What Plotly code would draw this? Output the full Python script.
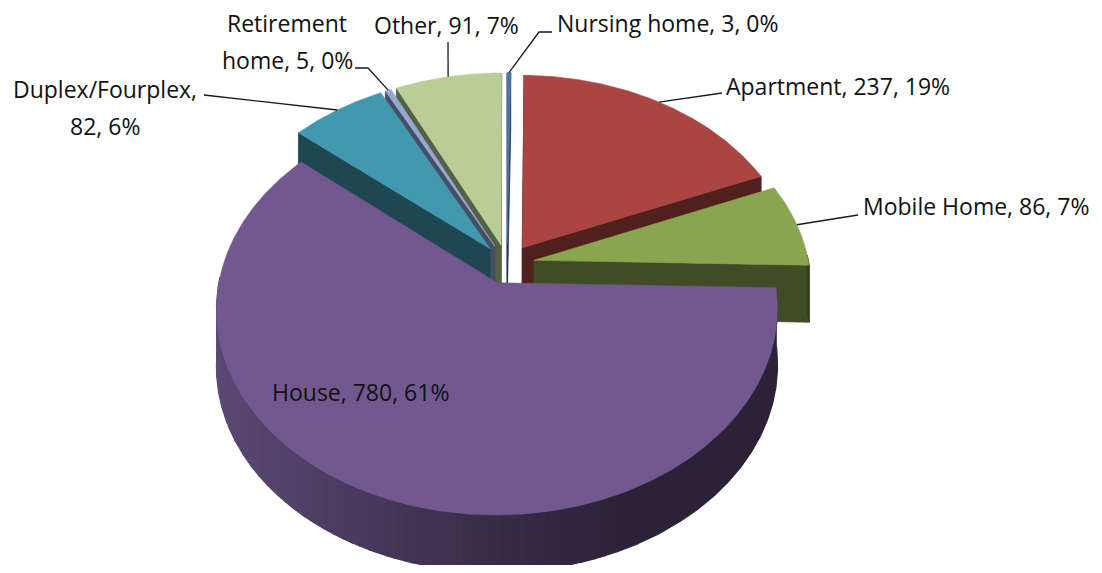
import numpy as np
import plotly.graph_objects as go

# ---------------- data ----------------
categories = ["Nursing home", "Apartment", "Mobile Home", "House",
              "Duplex/Fourplex", "Retirement home", "Other"]
counts = [3, 237, 86, 780, 82, 5, 91]
percent_labels = ["0%", "19%", "7%", "61%", "6%", "0%", "7%"]
slice_colors = ["#4A76AE", "#AA4541", "#89A54E", "#71588F",
                "#4198AF", "#93A9D3", "#B9CD96"]

# ---------------- geometry / style ----------------
W, H = 1102, 573
PAGE_MARGIN = 8            # browser default body margin around the plot div
CX, CY = 507, 264          # projected centre of the (unexploded) pie
SX, SY, PERSP = 275, 198, 0.1256
EXPLODE = 0.1
DEPTH = 57
FONT = "Open Sans"
FSIZE = 23
TXT = "#111111"


def proj(u, v):
    u = np.asarray(u, dtype=float)
    v = np.asarray(v, dtype=float)
    k = 1 + PERSP * v
    return CX + SX * u / k, CY - SY * v / k


def hex2rgb(h):
    h = h.lstrip("#")
    return [int(h[i:i + 2], 16) for i in (0, 2, 4)]


def shade(h, f):
    r, g, b = hex2rgb(h)
    return "rgb(%d,%d,%d)" % (int(r * f), int(g * f), int(b * f))


def wall_factor(s):
    return float(np.interp(s, [-1, -0.5, 0, 0.4, 1], [0.83, 0.68, 0.5, 0.39, 0.39]))


def poly(x, y, color, lw=0.8):
    return go.Scatter(x=x, y=y, mode="lines", fill="toself", fillcolor=color,
                      line=dict(color=color, width=lw), hoverinfo="skip",
                      showlegend=False)


total = sum(counts)
bounds = np.cumsum([0] + counts) / total * 360.0
mids = [(bounds[i] + bounds[i + 1]) / 2 for i in range(len(counts))]
order = sorted(range(len(counts)), key=lambda i: -np.cos(np.radians(mids[i])))

fig = go.Figure()
anchors = {}
for i in order:
    a0, a1, m = bounds[i], bounds[i + 1], mids[i]
    base = slice_colors[i]
    ou, ov = EXPLODE * np.sin(np.radians(m)), EXPLODE * np.cos(np.radians(m))
    n = max(4, int((a1 - a0) * 2) + 2)
    t = np.radians(np.linspace(a0, a1, n))
    px, py = proj(ou + np.sin(t), ov + np.cos(t))
    cx0, cy0 = proj(ou, ov)
    cx0, cy0 = float(cx0), float(cy0)

    # radial cut faces
    cx_, cy_ = [], []
    for ang, ex, ey in [(a0 - 90, px[0], py[0]), (a1 + 90, px[-1], py[-1])]:
        if np.cos(np.radians(ang)) < 0.02:
            cx_ += [cx0, ex, ex, cx0, cx0, None]
            cy_ += [cy0, ey, ey + DEPTH, cy0 + DEPTH, cy0, None]
    if cx_:
        fig.add_trace(poly(cx_, cy_, shade(base, 0.47)))

    # outer curved wall, in shaded strips
    segs = []
    for k in range(n - 1):
        tm = (t[k] + t[k + 1]) / 2
        if np.cos(tm) < 0.03:
            segs.append((k, round(wall_factor(np.sin(tm)), 2)))
    j = 0
    while j < len(segs):
        k0, lev = segs[j]
        k1 = k0
        while j + 1 < len(segs) and segs[j + 1][1] == lev and segs[j + 1][0] == k1 + 1:
            j += 1
            k1 = segs[j][0]
        idx = list(range(k0, k1 + 2))
        xs = [px[q] for q in idx] + [px[q] for q in reversed(idx)]
        ys = [py[q] for q in idx] + [py[q] + DEPTH for q in reversed(idx)]
        fig.add_trace(poly(xs + [xs[0]], ys + [ys[0]], shade(base, lev), lw=1.2))
        j += 1

    # top face
    tx = [cx0] + list(px) + [cx0]
    ty = [cy0] + list(py) + [cy0]
    fig.add_trace(poly(tx, ty, base, lw=0.6))

    ax, ay = proj(ou + np.sin(np.radians(m)), ov + np.cos(np.radians(m)))
    anchors[i] = (float(ax), float(ay))

# ---------------- leader lines ----------------
elbows = {
    0: [(539, 32), (552, 32)],
    1: [(722, 93)],
    2: [(858, 215)],
    4: [(204, 95)],
    5: [(368, 68), (355, 68)],
    6: [(448, 42)],
}
lx, ly = [], []
for i, pts in elbows.items():
    sx, sy = anchors[i]
    lx += [sx] + [p[0] for p in pts] + [None]
    ly += [sy] + [p[1] for p in pts] + [None]
fig.add_trace(go.Scatter(x=lx, y=ly, mode="lines", line=dict(color="#1a1a1a", width=1.3),
                         hoverinfo="skip", showlegend=False))

# ---------------- labels ----------------
def lab(i):
    return "%s, %d, %s" % (categories[i], counts[i], percent_labels[i])

ann = [
    dict(x=555, y=23, text=lab(0), xanchor="left"),
    dict(x=724, y=86, text=lab(1), xanchor="left"),
    dict(x=861, y=206, text=lab(2), xanchor="left"),
    dict(x=270, y=392, text=lab(3), xanchor="left"),
    dict(x=105, y=89, text="%s," % categories[4], xanchor="center"),
    dict(x=105, y=126, text="%d, %s" % (counts[4], percent_labels[4]), xanchor="center"),
    dict(x=287, y=23, text=categories[5].split(" ")[0], xanchor="center"),
    dict(x=287, y=60, text="%s, %d, %s" % (categories[5].split(" ")[1], counts[5], percent_labels[5]),
         xanchor="center"),
    dict(x=446, y=25, text=lab(6), xanchor="center"),
]
for a in ann:
    a.update(xref="x", yref="y", yanchor="middle", showarrow=False,
             font=dict(family=FONT, size=FSIZE, color=TXT))

# plot area mapped so that data units equal window pixels
PM = PAGE_MARGIN
fig.update_layout(
    width=W - 2 * PM, height=H - 2 * PM, margin=dict(l=0, r=0, t=0, b=0),
    paper_bgcolor="white", plot_bgcolor="white", showlegend=False,
    xaxis=dict(range=[PM, W - PM], visible=False, fixedrange=True),
    yaxis=dict(range=[H - PM, PM], visible=False, fixedrange=True),
    annotations=ann,
)
fig.write_html("out.html")
